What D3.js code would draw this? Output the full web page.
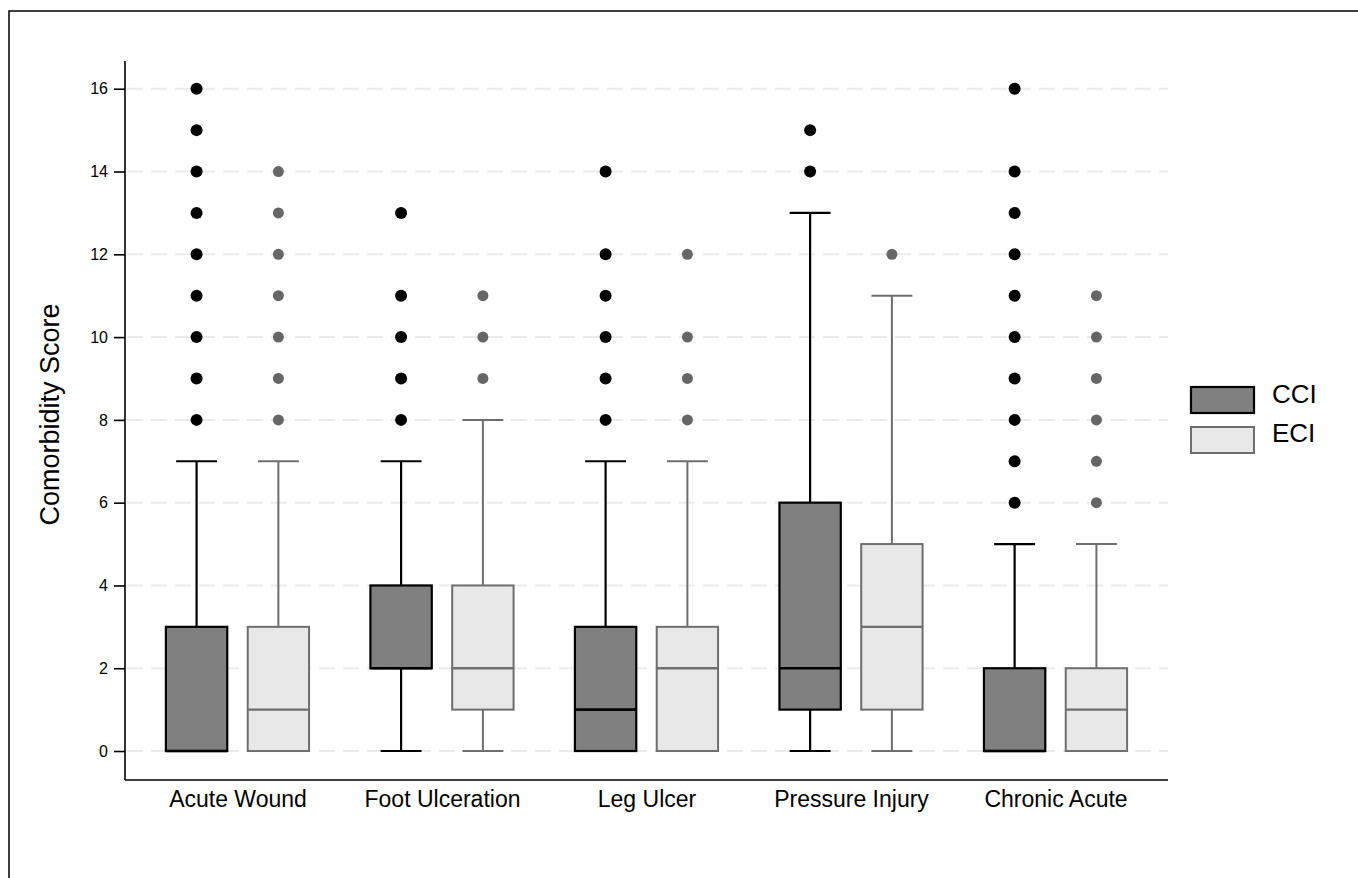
<!DOCTYPE html>
<html>
<head>
<meta charset="utf-8">
<script src="https://cdn.jsdelivr.net/npm/d3@7/dist/d3.min.js"></script>
<style>
  body { margin: 0; background: #fff; }
  text { font-family: "Liberation Sans", Arial, sans-serif; }
</style>
</head>
<body>
<script>
// categories and groups
let categories = ["Acute Wound", "Foot Ulceration", "Leg Ulcer", "Pressure Injury", "Chronic Acute"];
let groups = ["CCI", "ECI"];
// [lower whisker, q1, median, q3, upper whisker]
let cciStats = [[0, 0, 0, 3, 7], [0, 2, 2, 4, 7], [0, 0, 1, 3, 7], [0, 1, 2, 6, 13], [0, 0, 0, 2, 5]];
let eciStats = [[0, 0, 1, 3, 7], [0, 1, 2, 4, 8], [0, 0, 2, 3, 7], [0, 1, 3, 5, 11], [0, 0, 1, 2, 5]];
let cciOutliers = [
  [8, 9, 10, 11, 12, 13, 14, 15, 16],
  [8, 9, 10, 11, 13],
  [8, 9, 10, 11, 12, 14],
  [14, 15],
  [6, 7, 8, 9, 10, 11, 12, 13, 14, 16]
];
let eciOutliers = [
  [8, 9, 10, 11, 12, 13, 14],
  [9, 10, 11],
  [8, 9, 10, 12],
  [12],
  [6, 7, 8, 9, 10, 11]
];
let yTicks = [0, 2, 4, 6, 8, 10, 12, 14, 16];

let width = 1358, height = 878;
let pLeft = 125, pRight = 1168, pTop = 61, pBottom = 780;

let style = {
  CCI: { fill: "#808080", stroke: "#000000", sw: 2.2, point: "#000000", r: 6 },
  ECI: { fill: "#e8e8e8", stroke: "#6e6e6e", sw: 2, point: "#666666", r: 5.5 }
};

let svg = d3.select("body").append("svg")
  .attr("width", width)
  .attr("height", height);

// outer frame
svg.append("rect")
  .attr("x", 9).attr("y", 11)
  .attr("width", 1500).attr("height", 1000)
  .attr("fill", "none").attr("stroke", "#000").attr("stroke-width", 1.5);

let x = d3.scaleLinear().domain([0.45, 5.55]).range([pLeft, pRight]);
let y = d3.scaleLinear().domain([-0.7, 16.67]).range([pBottom, pTop]);

let dodge = { CCI: -0.2, ECI: 0.2 };
let boxW = x(0.3) - x(0);
let capW = x(0.2) - x(0);

// grid lines
svg.append("g").selectAll("line")
  .data(yTicks)
  .enter().append("line")
  .attr("x1", pLeft + 2).attr("x2", pRight)
  .attr("y1", d => y(d)).attr("y2", d => y(d))
  .attr("stroke", "#ebebeb")
  .attr("stroke-width", 2)
  .attr("stroke-dasharray", "16,8");

// boxes
function drawGroup(name, stats, outliers) {
  let s = style[name];
  let g = svg.append("g").attr("class", name);
  let rows = stats.map((d, i) => ({ i: i, st: d, out: outliers[i], cx: x(i + 1 + dodge[name]) }));

  // whiskers
  g.selectAll("line.wl").data(rows).enter().append("line")
    .attr("x1", d => d.cx).attr("x2", d => d.cx)
    .attr("y1", d => y(d.st[0])).attr("y2", d => y(d.st[1]))
    .attr("stroke", s.stroke).attr("stroke-width", s.sw);
  g.selectAll("line.wu").data(rows).enter().append("line")
    .attr("x1", d => d.cx).attr("x2", d => d.cx)
    .attr("y1", d => y(d.st[3])).attr("y2", d => y(d.st[4]))
    .attr("stroke", s.stroke).attr("stroke-width", s.sw);
  // caps
  [0, 4].forEach(k => {
    g.selectAll("line.cap" + k).data(rows).enter().append("line")
      .attr("x1", d => d.cx - capW / 2).attr("x2", d => d.cx + capW / 2)
      .attr("y1", d => y(d.st[k])).attr("y2", d => y(d.st[k]))
      .attr("stroke", s.stroke).attr("stroke-width", s.sw);
  });
  // box
  g.selectAll("rect").data(rows).enter().append("rect")
    .attr("x", d => d.cx - boxW / 2)
    .attr("y", d => y(d.st[3]))
    .attr("width", boxW)
    .attr("height", d => y(d.st[1]) - y(d.st[3]))
    .attr("fill", s.fill).attr("stroke", s.stroke).attr("stroke-width", s.sw);
  // median
  g.selectAll("line.med").data(rows).enter().append("line")
    .attr("x1", d => d.cx - boxW / 2).attr("x2", d => d.cx + boxW / 2)
    .attr("y1", d => y(d.st[2])).attr("y2", d => y(d.st[2]))
    .attr("stroke", s.stroke).attr("stroke-width", s.sw + 0.4);
  // outliers
  let pts = [];
  rows.forEach(d => d.out.forEach(v => pts.push({ cx: d.cx, v: v })));
  g.selectAll("circle").data(pts).enter().append("circle")
    .attr("cx", d => d.cx).attr("cy", d => y(d.v))
    .attr("r", s.r).attr("fill", s.point);
}
drawGroup("CCI", cciStats, cciOutliers);
drawGroup("ECI", eciStats, eciOutliers);

// axes
let axisY = d3.axisLeft(y).tickValues(yTicks).tickSize(11).tickPadding(6);
let gy = svg.append("g").attr("transform", `translate(${pLeft},0)`).call(axisY);
gy.select(".domain").attr("d", `M0,${pTop}V${pBottom}`).attr("stroke-width", 1.6);
gy.selectAll(".tick line").attr("stroke-width", 1.6);
gy.selectAll(".tick text").attr("font-size", "16px").attr("fill", "#000")
  .style("font-family", "'Liberation Sans', Arial, sans-serif");

let axisX = d3.axisBottom(x).tickValues([1, 2, 3, 4, 5])
  .tickFormat((d, i) => categories[i]).tickSize(0).tickPadding(11);
let gx = svg.append("g").attr("transform", `translate(0,${pBottom})`).call(axisX);
gx.select(".domain").attr("d", `M${pLeft},0H${pRight}`).attr("stroke-width", 1.6);
gx.selectAll(".tick text").attr("font-size", "23px").attr("fill", "#000")
  .style("font-family", "'Liberation Sans', Arial, sans-serif");

// y title
svg.append("text")
  .attr("transform", `translate(59,${(pTop + pBottom) / 2 - 6}) rotate(-90)`)
  .attr("text-anchor", "middle")
  .attr("font-size", "27px")
  .text("Comorbidity Score");

// legend
let legend = svg.append("g").attr("transform", "translate(1191,387)");
groups.forEach((gname, i) => {
  let s = style[gname];
  legend.append("rect")
    .attr("x", 0).attr("y", i * 40)
    .attr("width", 63).attr("height", 26)
    .attr("fill", s.fill).attr("stroke", s.stroke).attr("stroke-width", s.sw);
  legend.append("text")
    .attr("x", 81).attr("y", i * 39 + 16)
    .attr("font-size", "26px")
    .text(gname);
});
</script>
</body>
</html>
